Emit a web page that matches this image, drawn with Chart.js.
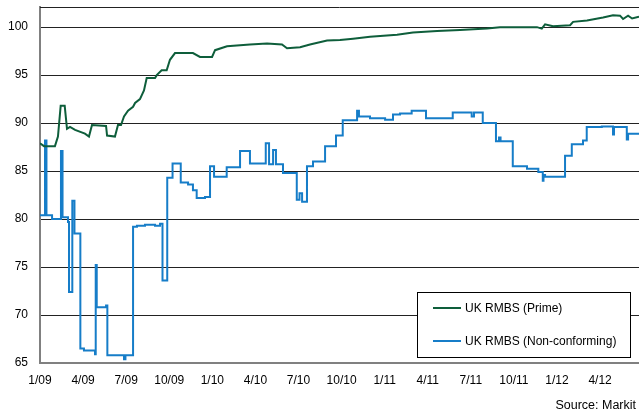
<!DOCTYPE html>
<html>
<head>
<meta charset="utf-8">
<script src="https://cdn.jsdelivr.net/npm/chart.js@4.4.0/dist/chart.umd.min.js"></script>
<style>
  html, body { margin: 0; padding: 0; background: #fff; }
  #wrap { width: 639px; height: 414px; position: relative; }
</style>
</head>
<body>
<div id="wrap"><canvas id="myChart" width="639" height="414"></canvas></div>
<script>
// months since 1/09
var tickLabels = ["1/09", "4/09", "7/09", "10/09", "1/10", "4/10", "7/10", "10/10", "1/11", "4/11", "7/11", "10/11", "1/12", "4/12"];

var primeMonths = [0, 0.28, 1.04, 1.25, 1.44, 1.72, 1.88, 2.09, 2.44, 3.13, 3.41, 3.62, 4.60, 4.67, 5.22, 5.43, 5.64, 5.85, 6.13, 6.48,
  6.62, 6.96, 7.24, 7.43, 8.01, 8.13, 8.47, 8.82, 9.05, 9.40, 10.65, 11.14, 11.98, 12.19, 13.02, 14.62, 15.81, 16.85, 17.20, 18.11,
  18.80, 19.99, 20.89, 21.80, 22.98, 24.86, 25.97, 27.65, 29.25, 31.13, 32.03, 34.61, 34.94, 35.17, 35.72, 36.91, 37.12, 38.09, 39.21, 39.90,
  40.39, 40.60, 40.95, 41.23, 41.71];
var primeValues = [87.9, 87.6, 87.6, 88.6, 91.8, 91.8, 89.4, 89.6, 89.3, 88.9, 88.6, 89.8, 89.7, 88.7, 88.6, 89.8, 89.8, 90.7, 91.3, 91.7,
  92.1, 92.5, 93.4, 94.7, 94.7, 95.0, 95.5, 95.5, 96.6, 97.3, 97.3, 96.9, 96.9, 97.6, 98.0, 98.2, 98.3, 98.2, 97.8, 97.9,
  98.2, 98.6, 98.65, 98.8, 99.0, 99.2, 99.45, 99.6, 99.7, 99.85, 100.0, 100.0, 99.85, 100.3, 100.1, 100.2, 100.55, 100.7, 101.0, 101.25,
  101.2, 100.85, 101.2, 100.9, 101.1];

var ncMonths = [0, 0.35, 0.45, 0.84, 1.46, 1.57, 1.95, 2.02, 2.25, 2.40, 2.81, 3.06, 3.83, 3.88, 3.95, 4.60, 4.69, 5.85, 5.95, 6.48,
  6.75, 7.31, 8.01, 8.36, 8.53, 8.86, 9.23, 9.80, 10.31, 10.65, 10.91, 11.49, 11.84, 12.12, 13.00, 13.93, 14.62, 15.72, 15.95, 16.23,
  16.43, 16.92, 17.88, 18.07, 18.25, 18.59, 19.01, 19.85, 20.61, 21.08, 22.08, 22.21, 22.98, 24.03, 24.58, 25.07, 25.88, 26.88, 28.74, 30.06,
  30.22, 30.83, 31.75, 31.96, 32.07, 32.92, 33.91, 34.70, 35.01, 35.06, 35.17, 36.56, 37.03, 37.81, 38.07, 39.12, 39.90, 39.97, 40.86, 40.95,
  41.71];
var ncValues = [80.4, 88.2, 80.4, 80.0, 87.1, 80.2, 79.7, 72.4, 81.9, 78.5, 66.5, 66.3, 65.9, 75.2, 70.8, 71.0, 65.8, 65.4, 65.8, 79.2,
  79.3, 79.4, 79.3, 79.5, 73.6, 84.3, 85.8, 83.8, 83.6, 83.0, 82.2, 82.3, 85.5, 84.4, 85.4, 87.1, 85.8, 87.9, 85.7, 87.2,
  85.7, 84.8, 82.0, 82.7, 81.8, 85.5, 86.0, 87.6, 88.7, 90.3, 91.3, 90.7, 90.5, 90.35, 90.9, 91.0, 91.3, 90.5, 91.1, 90.7,
  91.1, 90.0, 88.1, 88.5, 88.1, 85.5, 85.25, 84.9, 84.0, 84.6, 84.4, 86.6, 87.8, 88.2, 89.6, 89.65, 88.8, 89.6, 88.3, 88.9,
  88.9];

function toPoints(xs, ys) {
  return xs.map(function (x, i) { return { x: x, y: ys[i] }; });
}

var fontName = "'Liberation Sans', Arial, sans-serif";

function noPad(scale) {
  scale.paddingTop = 0;
  scale.paddingBottom = 0;
  scale.paddingLeft = 0;
  scale.paddingRight = 0;
}

// legend box, frame top line and source note
const extras = {
  id: "extras",
  afterDraw: function (chart) {
    const ctx = chart.ctx;
    const area = chart.chartArea;
    ctx.save();
    ctx.strokeStyle = "#222";
    ctx.lineWidth = 1;
    ctx.beginPath();
    ctx.moveTo(area.left, area.top + 0.5);
    ctx.lineTo(area.right, area.top + 0.5);
    ctx.stroke();

    ctx.fillStyle = "#fff";
    ctx.fillRect(417, 292, 214, 65);
    ctx.strokeStyle = "#000";
    ctx.strokeRect(417.5, 292.5, 213, 65);

    ctx.font = "12px " + fontName;
    ctx.textBaseline = "middle";
    chart.data.datasets.forEach(function (ds, i) {
      var y = 308 + i * 33;
      ctx.strokeStyle = ds.borderColor;
      ctx.lineWidth = 2;
      ctx.beginPath();
      ctx.moveTo(433, y);
      ctx.lineTo(461, y);
      ctx.stroke();
      ctx.fillStyle = "#000";
      ctx.fillText(ds.label, 465, y + 1);
    });

    ctx.font = "12.5px " + fontName;
    ctx.textAlign = "right";
    ctx.fillText("Source: Markit", 636, 406);
    ctx.restore();
  }
};

new Chart(document.getElementById("myChart"), {
  type: "line",
  data: {
    datasets: [
      {
        label: "UK RMBS (Prime)",
        data: toPoints(primeMonths, primeValues),
        borderColor: "#0E5E3B",
        borderWidth: 2,
        pointRadius: 0,
        fill: false,
      },
      {
        label: "UK RMBS (Non-conforming)",
        data: toPoints(ncMonths, ncValues),
        borderColor: "#167DC8",
        borderWidth: 2,
        pointRadius: 0,
        stepped: true,
        fill: false,
      },
    ],
  },
  options: {
    responsive: false,
    animation: false,
    layout: { padding: { top: 7, right: 0, left: 0, bottom: 0 } },
    plugins: { legend: { display: false }, tooltip: { enabled: false } },
    scales: {
      x: {
        type: "linear",
        min: 0,
        max: 41.71,
        afterFit: function (scale) { scale.height = 51; noPad(scale); },
        grid: { display: false, drawTicks: false },
        border: { color: "#808080", width: 2 },
        ticks: {
          stepSize: 3,
          includeBounds: false,
          autoSkip: false,
          maxRotation: 0,
          padding: 10,
          color: "#000",
          font: { family: fontName, size: 12 },
          callback: function (v) {
            var i = Math.round(v / 3);
            return Math.abs(v - i * 3) < 0.01 ? tickLabels[i] : "";
          },
        },
      },
      y: {
        min: 65,
        max: 102.1,
        afterFit: function (scale) { scale.width = 40; noPad(scale); },
        grid: {
          drawTicks: false,
          color: function (c) { return c.tick && c.tick.value === 65 ? "rgba(0,0,0,0)" : "#222"; },
        },
        border: { color: "#808080", width: 2 },
        ticks: {
          stepSize: 5,
          includeBounds: false,
          padding: 12,
          color: "#000",
          font: { family: fontName, size: 12 },
        },
      },
    },
  },
  plugins: [extras],
});
</script>
</body>
</html>
